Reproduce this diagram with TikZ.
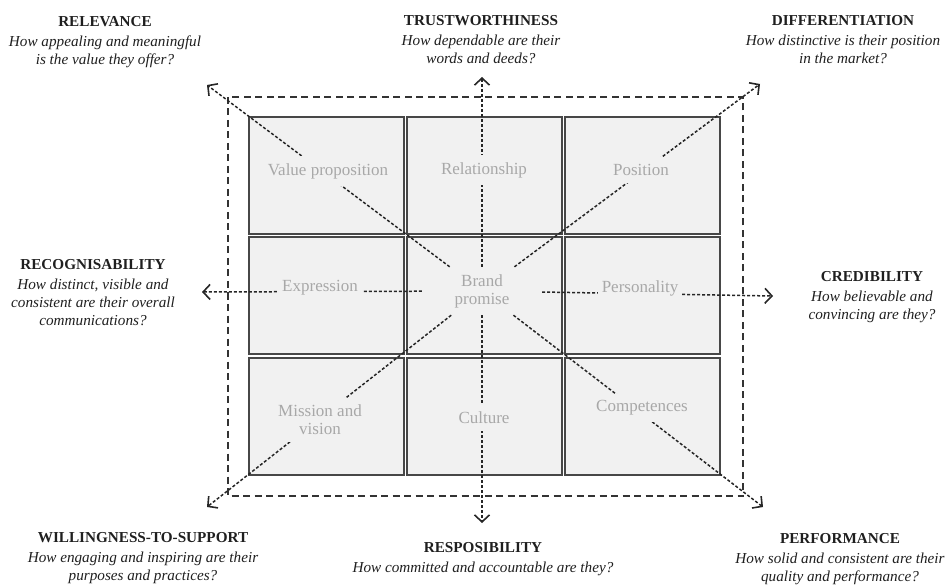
\documentclass[tikz,border=0pt]{standalone}
\usepackage{fontspec}
\setmainfont{Liberation Serif}
\usepackage{tikz}
\usetikzlibrary{arrows.meta, positioning}

\definecolor{cellfill}{HTML}{F1F1F1}
\definecolor{celltext}{HTML}{A8A8A8}

\tikzset{
  cell/.style={draw=black!72, line width=1.5pt, fill=cellfill, minimum width=155pt, minimum height=117pt, inner sep=0pt},
  lbl/.style={fill=cellfill, text=celltext, align=center, inner xsep=4pt, inner ysep=7pt, font=\fontsize{17}{18}\selectfont},
  brandbox/.style={text=celltext, align=center, minimum width=120pt, minimum height=48pt, inner sep=0pt, font=\fontsize{17}{18}\selectfont},
  head/.style={align=center, text=black!88, font=\fontsize{15.2}{18}\selectfont},
  ray/.style={draw=black!85, line width=1.5pt, dash pattern=on 3pt off 2pt, -{Straight Barb[length=7pt, width=15pt, line width=1.6pt]}},
  frame/.style={draw=black!80, line width=1.8pt, dash pattern=on 7pt off 4.5pt}
}

\begin{document}
\begin{tikzpicture}[x=1pt, y=-1pt]

        \useasboundingbox (0,0) rectangle (951,588);

        % Grid of cells
        \node[cell] (vp)   at (326.5,175.5) {};
        \node[cell] (rel)  at (484.5,175.5) {};
        \node[cell] (pos)  at (642.5,175.5) {};
        \node[cell] (expr) at (326.5,295.5) {};
        \node[cell] (mid)  at (484.5,295.5) {};
        \node[cell] (pers) at (642.5,295.5) {};
        \node[cell] (miss) at (326.5,416.5) {};
        \node[cell] (cult) at (484.5,416.5) {};
        \node[cell] (comp) at (642.5,416.5) {};

        % Dashed frame
        \draw[frame] (228,97) rectangle (743,496);

        % Core
        \node[brandbox] (bp) at (482,291) {Brand\\promise};

        % Arrow tips
        \coordinate (tipTL) at (207,85);
        \coordinate (tipT)  at (482,77);
        \coordinate (tipTR) at (760,84);
        \coordinate (tipL)  at (202,292);
        \coordinate (tipR)  at (773,296);
        \coordinate (tipBL) at (207,507);
        \coordinate (tipB)  at (482,523);
        \coordinate (tipBR) at (763,507);

        % Rays
        \draw[ray] (bp) -- (tipTL);
        \draw[ray] (bp) -- (tipT);
        \draw[ray] (bp) -- (tipTR);
        \draw[ray] (bp) -- (tipL);
        \draw[ray] (bp) -- (tipR);
        \draw[ray] (bp) -- (tipBL);
        \draw[ray] (bp) -- (tipB);
        \draw[ray] (bp) -- (tipBR);

        % Cell labels
        \node[lbl] (vpl)   at (328,171) {Value proposition};
        \node[lbl] (rell)  at (484,170) {Relationship};
        \node[lbl] (posl)  at (641,170) {Position};
        \node[lbl] (exprl) at (320,288) {Expression};
        \node[lbl] (persl) at (640,288) {Personality};
        \node[lbl] (missl) at (320,420) {Mission and\\vision};
        \node[lbl] (cultl) at (484,418) {Culture};
        \node[lbl] (compl) at (642,408) {Competences};

        % Dimensions
        \node[head] (relv) at (105,42) {\textbf{RELEVANCE}\\[2pt]\textit{How appealing and meaningful}\\\textit{is the value they offer?}};
        \node[head] (trst) at (481,40) {\textbf{TRUSTWORTHINESS}\\[2pt]\textit{How dependable are their}\\\textit{words and deeds?}};
        \node[head] (diff) at (843,40) {\textbf{DIFFERENTIATION}\\[2pt]\textit{How distinctive is their position}\\\textit{in the market?}};
        \node[head] (recg) at (93,293) {\textbf{RECOGNISABILITY}\\[2pt]\textit{How distinct, visible and}\\\textit{consistent are their overall}\\\textit{communications?}};
        \node[head] (cred) at (872,297) {\textbf{CREDIBILITY}\\[2pt]\textit{How believable and}\\\textit{convincing are they?}};
        \node[head] (will) at (143,558) {\textbf{WILLINGNESS-TO-SUPPORT}\\[2pt]\textit{How engaging and inspiring are their}\\\textit{purposes and practices?}};
        \node[head] (resp) at (483,559) {\textbf{RESPOSIBILITY}\\[2pt]\textit{How committed and accountable are they?}};
        \node[head] (perf) at (840,559) {\textbf{PERFORMANCE}\\[2pt]\textit{How solid and consistent are their}\\\textit{quality and performance?}};

\end{tikzpicture}
\end{document}
